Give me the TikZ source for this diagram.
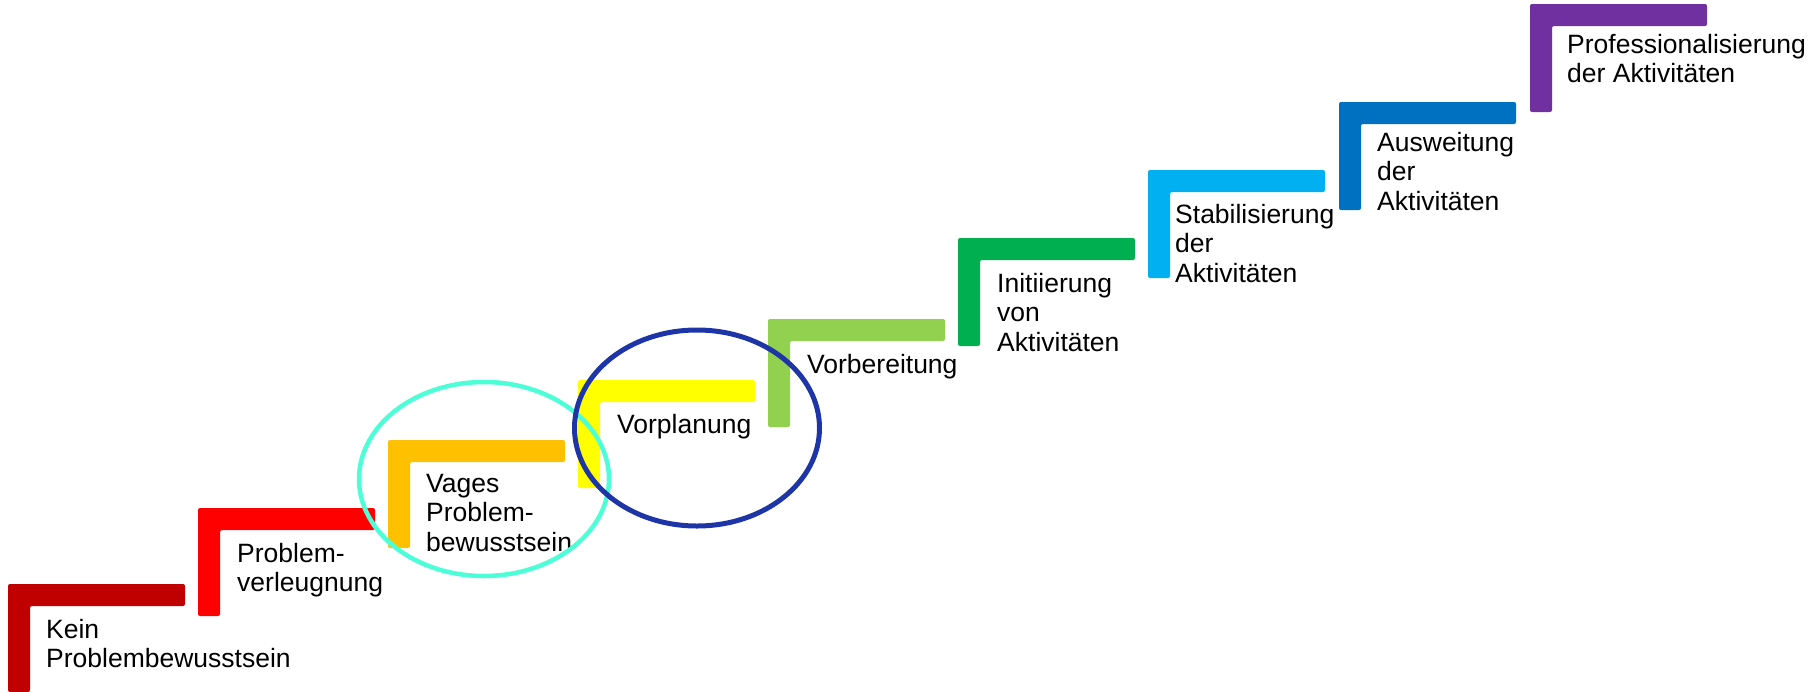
\documentclass[tikz,border=0pt]{standalone}
\usepackage{fontspec}
\setmainfont{Liberation Sans}
\definecolor{c1}{HTML}{C00000}
\definecolor{c2}{HTML}{FF0000}
\definecolor{c3}{HTML}{FFC000}
\definecolor{c4}{HTML}{FFFF00}
\definecolor{c5}{HTML}{92D050}
\definecolor{c6}{HTML}{00B050}
\definecolor{c7}{HTML}{00B0F0}
\definecolor{c8}{HTML}{0070C0}
\definecolor{c9}{HTML}{7030A0}
\definecolor{ringcyan}{HTML}{4DFFD6}
\definecolor{ringblue}{HTML}{1E35A8}
\newcommand{\stairstep}[3]{% left, top, colour
  \fill[#3, rounded corners=2pt] (#1,#2) -- ++(177,0) -- ++(0,22) -- ++(-155,0) -- ++(0,86) -- ++(-22,0) -- cycle;
}
\begin{document}
\begin{tikzpicture}[x=1pt,y=-1pt,
  lbl/.style={anchor=north west, inner sep=0pt, align=left, text=black,
    font=\fontsize{26.5}{29.3}\selectfont}]
\useasboundingbox (0,0) rectangle (1812,691);
\stairstep{8}{584}{c1}
\stairstep{198}{508}{c2}
\stairstep{388}{440}{c3}
\stairstep{578}{380}{c4}
\stairstep{768}{319}{c5}
\stairstep{958}{238}{c6}
\stairstep{1148}{170}{c7}
\stairstep{1339}{102}{c8}
\stairstep{1530}{4}{c9}
\node[lbl] (t1) at (46,619) {Kein\\Problembewusstsein};
\node[lbl] (t2) at (237,543) {Problem-\\verleugnung};
\node[lbl] (t3) at (426,474) {Vages\\Problem-\\bewusstsein};
\node[lbl] (t4) at (617,414) {Vorplanung};
\node[lbl] (t5) at (807,354) {Vorbereitung};
\node[lbl] (t6) at (997,273) {Initiierung\\von\\Aktivitäten};
\node[lbl] (t7) at (1175,204) {Stabilisierung\\der\\Aktivitäten};
\node[lbl] (t8) at (1377,132) {Ausweitung\\der\\Aktivitäten};
\node[lbl] (t9) at (1567,34) {Professionalisierung\\der Aktivitäten};
\coordinate (ec1) at (484,479);
\coordinate (ec2) at (697,428);
\draw[ringcyan, line width=4.5pt] (ec1) ellipse [x radius=125, y radius=97];
\draw[ringblue, line width=5pt] (ec2) ellipse [x radius=122.5, y radius=98];
\end{tikzpicture}
\end{document}
